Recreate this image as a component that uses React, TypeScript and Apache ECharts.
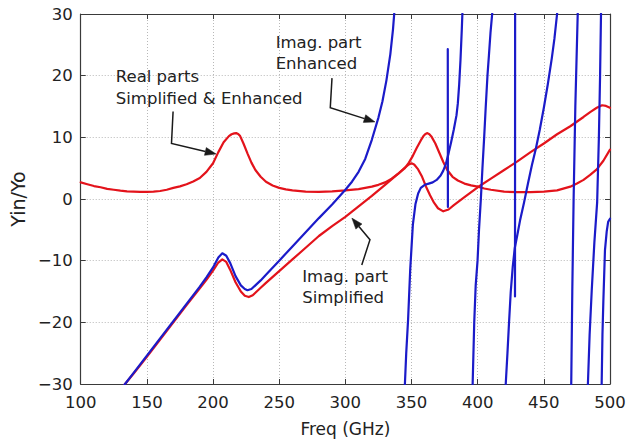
import React, { useEffect, useRef } from 'react';
import * as echarts from 'echarts';

// ---- axes ----
const xMin = 100, xMax = 500, xStep = 50;
const yMin = -30, yMax = 30, yStep = 10;
const xName = 'Freq (GHz)';
const yName = 'Yin/Yo';

// ---- data ----
const realPart: number[][] = [
  [100, 2.7], [105, 2.4], [110, 2.1], [115, 1.9], [120, 1.65], [125, 1.5], [130, 1.35], [135, 1.25],
  [140, 1.2], [145, 1.15], [150, 1.15], [155, 1.2], [160, 1.3], [165, 1.5], [170, 1.8], [175, 2.05],
  [180, 2.4], [185, 2.85], [190, 3.4], [195, 4.4], [200, 5.8], [204, 7.6], [208, 9.2], [212, 10.2],
  [214, 10.5], [216, 10.64], [217.5, 10.68], [219, 10.55], [220.5, 10.2], [223, 9.0], [226, 7.4],
  [229, 5.9], [232, 4.7], [236, 3.6],
  [240, 2.8], [245, 2.2], [250, 1.8], [255, 1.55], [260, 1.4], [270, 1.2], [280, 1.15], [290, 1.25],
  [300, 1.4], [310, 1.6], [320, 2.0], [325, 2.3], [330, 2.7], [335, 3.3], [340, 4.1], [345, 5.0],
  [348, 5.9], [351, 7.0], [354, 8.3], [357, 9.5], [359, 10.2], [360.5, 10.55], [362, 10.68],
  [363.5, 10.5], [365, 10.15], [368, 9.0],
  [371, 7.5], [374, 6.0], [377, 4.7], [381, 3.6], [385, 3.0], [390, 2.5], [395, 2.2], [400, 2.0],
  [405, 1.7], [410, 1.5], [420, 1.2], [430, 1.1], [440, 1.1], [450, 1.2], [460, 1.4], [470, 2.0],
  [475, 2.5], [480, 3.1], [485, 3.9], [490, 4.8], [495, 6.2], [500, 8.0],
];

const imagSimplified: number[][] = [
  [130, -31], [133.5, -30], [140, -28.3], [150, -25.6], [160, -22.8], [170, -20.0], [180, -17.2],
  [190, -14.5], [195, -13.1], [200, -11.6], [204, -10.3], [207, -9.8], [210, -10.2], [213, -11.5],
  [217, -13.5], [221, -15.0], [224, -15.7], [227, -15.9], [230, -15.6], [233, -15.0], [236, -14.4],
  [240, -13.6], [250, -11.7], [260, -9.8], [270, -7.9], [280, -6.0], [290, -4.4], [300, -2.9],
  [310, -1.2], [320, 0.5], [330, 2.3], [340, 4.1], [345, 5.1], [348, 5.6], [350, 5.8], [352, 5.6],
  [355, 4.8], [358, 3.6], [361, 2.0], [364, 0.6], [367, -0.6], [370, -1.5], [374, -2.0], [378, -1.7],
  [382, -1.0], [390, 0.3], [400, 1.9], [410, 3.3], [420, 4.7], [430, 6.1], [440, 7.6], [450, 9.0],
  [460, 10.5], [470, 11.8], [480, 13.3], [485, 14.1], [490, 14.8], [494, 15.2], [497, 15.1], [500, 14.8],
];

// Imag. part, enhanced: branches between poles, plus two near-vertical spikes
const enhancedBranch1: number[][] = [
  [130, -31], [133.5, -30], [140, -28.2], [150, -25.4], [160, -22.6], [170, -19.8], [180, -17.0],
  [190, -14.2], [195, -12.7], [200, -11.1], [204, -9.5], [207, -8.8], [210, -9.2], [213, -10.4],
  [217, -12.5], [221, -14.0], [224, -14.6], [226, -14.8], [229, -14.6], [232, -14.0], [236, -13.2],
  [240, -12.3], [250, -10.0], [260, -7.7], [270, -5.4], [280, -3.1], [290, -0.9], [300, 1.5],
  [305, 2.8], [310, 4.4], [315, 6.5], [320, 9.6], [325, 13.2], [328, 15.8], [331, 19.2], [334, 23.5],
  [336, 27.5], [338, 33],
];
const enhancedBranch2: number[][] = [
  [344.5, -33], [345, -30], [346, -25], [347.4, -19.6], [349, -11.5], [351, -4.2], [353, -0.8],
  [355, 0.9], [357, 1.8], [360, 2.3], [363, 2.5], [366, 2.7], [369, 3.1], [372, 3.8], [374, 4.6],
  [376, 5.7], [378, 7.4], [380, 9.3], [382, 11.3], [384, 13.6], [385, 15.5], [386, 18.5], [387, 22.5],
  [388, 27.5], [388.6, 31],
];
const enhancedSpike1: number[][] = [[377.4, 24.3], [377.5, -1.3]];
const enhancedBranch3: number[][] = [
  [395.8, -33], [396.2, -30], [397.4, -20], [398.5, -14], [399.9, -10], [401, -5], [402.4, 0],
  [403.6, 5], [404.9, 10], [406.1, 15], [407.4, 20], [408.5, 23.3], [409.7, 27], [411.2, 30.6], [411.6, 33],
];
const enhancedBranch4: number[][] = [
  [420.9, -33], [421.2, -30], [422.5, -25], [423.7, -20], [425, -15], [426.5, -11], [428, -8],
  [430, -5.8], [432, -3.5], [435, -0.6], [438, 2.5], [441, 5.5], [444, 8.2], [447, 11.3], [450, 14.8],
  [453, 18.6], [456, 22.8], [458, 26], [460, 30], [461, 33],
];
const enhancedSpike2: number[][] = [[428.2, -15.8], [428.3, 33]];
const enhancedBranch5: number[][] = [
  [470.5, -32], [470.7, -30], [471.5, -15], [472.5, 0], [473.8, 15], [475.6, 30], [475.8, 32],
];
const enhancedBranch6: number[][] = [
  [483.1, -32], [483.3, -30], [484.6, -22], [486.2, -14.8], [488.2, -7], [490.3, -0.5], [491.6, 10],
  [492.5, 20], [493.2, 30], [493.4, 32],
];
const enhancedBranch7: number[][] = [
  [493.5, -33], [493.7, -30], [494.3, -22], [495, -16.4], [496.2, -8.3], [497.5, -5.3], [498.6, -3.7],
  [500, -3.2],
];

const enhancedPieces = [
  enhancedBranch1, enhancedBranch2, enhancedSpike1, enhancedBranch3, enhancedBranch4,
  enhancedSpike2, enhancedBranch5, enhancedBranch6, enhancedBranch7,
];

// ---- annotations (anchored in data coordinates) ----
const annotations = [
  { lines: ['Real parts', 'Simplified & Enhanced'], at: [126.5, 19.8], arrow: [[169.8, 14.2], [168.6, 9.0], [202.3, 7.3]] },
  { lines: ['Imag. part', 'Enhanced'], at: [247.3, 25.4], arrow: [[289.9, 19.6], [288.6, 14.8], [322.4, 12.5]] },
  { lines: ['Imag. part', 'Simplified'], at: [267.4, -12.5], arrow: [[312.4, -10.7], [318.6, -6.6], [304.9, -3.1]] },
];

const RED = '#e3131b';
const BLUE = '#1b1bc9';
const FONT = '"DejaVu Sans", sans-serif';
const TEXT = '#222222';

export default function App() {
  const ref = useRef<HTMLDivElement>(null);
  useEffect(() => {
    const chart = echarts.init(ref.current!, null, { renderer: 'svg' });
    const line = (name: string, data: number[][], color: string, z: number) => ({
      type: 'line', name, data, symbol: 'none', showSymbol: false, smooth: false,
      clip: true, silent: true, z, lineStyle: { color, width: 2.2, join: 'round', cap: 'round' }, itemStyle: { color },
    });
    const axisLine = { show: true, onZero: false, lineStyle: { color: '#3a3a3a', width: 1.2 } };
    const tick = { show: true, inside: true, length: 5, lineStyle: { color: '#3a3a3a' } };
    const grid = { show: true, lineStyle: { color: '#b8b8b8', width: 1, type: [1, 2] } };
    chart.setOption({
      animation: false,
      backgroundColor: '#ffffff',
      grid: { left: 79, top: 14, width: 531, height: 370, containLabel: false },
      xAxis: [
        {
          type: 'value', min: xMin, max: xMax, interval: xStep, position: 'bottom',
          name: xName, nameLocation: 'middle', nameGap: 36,
          nameTextStyle: { fontFamily: FONT, fontSize: 17, color: TEXT },
          axisLine, axisTick: tick, splitLine: grid,
          axisLabel: { fontFamily: FONT, fontSize: 16.5, color: TEXT, margin: 10 },
        },
        {
          type: 'value', min: xMin, max: xMax, interval: xStep, position: 'top',
          axisLine, axisTick: tick, splitLine: { show: false }, axisLabel: { show: false },
        },
      ],
      yAxis: [
        {
          type: 'value', min: yMin, max: yMax, interval: yStep, position: 'left',
          name: yName, nameLocation: 'middle', nameGap: 37,
          nameTextStyle: { fontFamily: FONT, fontSize: 19, color: TEXT },
          axisLine, axisTick: tick, splitLine: grid,
          axisLabel: { fontFamily: FONT, fontSize: 16.5, color: TEXT, margin: 8, formatter: (v: number) => (v < 0 ? '\u2212' + Math.abs(v) : String(v)) },
        },
        {
          type: 'value', min: yMin, max: yMax, interval: yStep, position: 'right',
          axisLine, axisTick: tick, splitLine: { show: false }, axisLabel: { show: false },
        },
      ],
      series: [
        line('Real parts', realPart, RED, 2),
        line('Imag. part Simplified', imagSimplified, RED, 2),
        ...enhancedPieces.map((p, i) => line('Imag. part Enhanced ' + (i + 1), p, BLUE, 3)),
      ],
    });

    const px = (p: number[]) => chart.convertToPixel({ seriesIndex: 0 }, p) as number[];
    const graphic: any[] = [];
    annotations.forEach((a) => {
      const [tx, ty] = px(a.at);
      a.lines.forEach((t, k) => {
        graphic.push({
          type: 'text', x: tx, y: ty + k * 21.5, z: 10,
          style: { text: t, fontFamily: 'DejaVu Sans', fontSize: 16.5, fill: TEXT, align: 'left', verticalAlign: 'middle', textAlign: 'left', textVerticalAlign: 'middle' },
        });
      });
      const pts = a.arrow.map(px);
      const tip = pts[pts.length - 1];
      const prev = pts[pts.length - 2];
      const dx = tip[0] - prev[0], dy = tip[1] - prev[1];
      const len = Math.hypot(dx, dy);
      const ux = dx / len, uy = dy / len;
      const L = 11, W = 4;
      const bx = tip[0] - ux * L, by = tip[1] - uy * L;
      const body = pts.slice(0, -1).concat([[bx, by]]);
      graphic.push({ type: 'polyline', z: 10, shape: { points: body }, style: { stroke: '#1a1a1a', lineWidth: 1.5, fill: null } });
      graphic.push({
        type: 'polygon', z: 10,
        shape: { points: [tip, [bx - uy * W, by + ux * W], [bx + uy * W, by - ux * W]] },
        style: { fill: '#1a1a1a', stroke: '#1a1a1a', lineWidth: 0.5 },
      });
    });
    chart.setOption({ graphic });
    return () => chart.dispose();
  }, []);
  return <div ref={ref} style={{ position: 'fixed', left: 0, top: 0, width: 638, height: 445, background: '#fff' }} />;
}
